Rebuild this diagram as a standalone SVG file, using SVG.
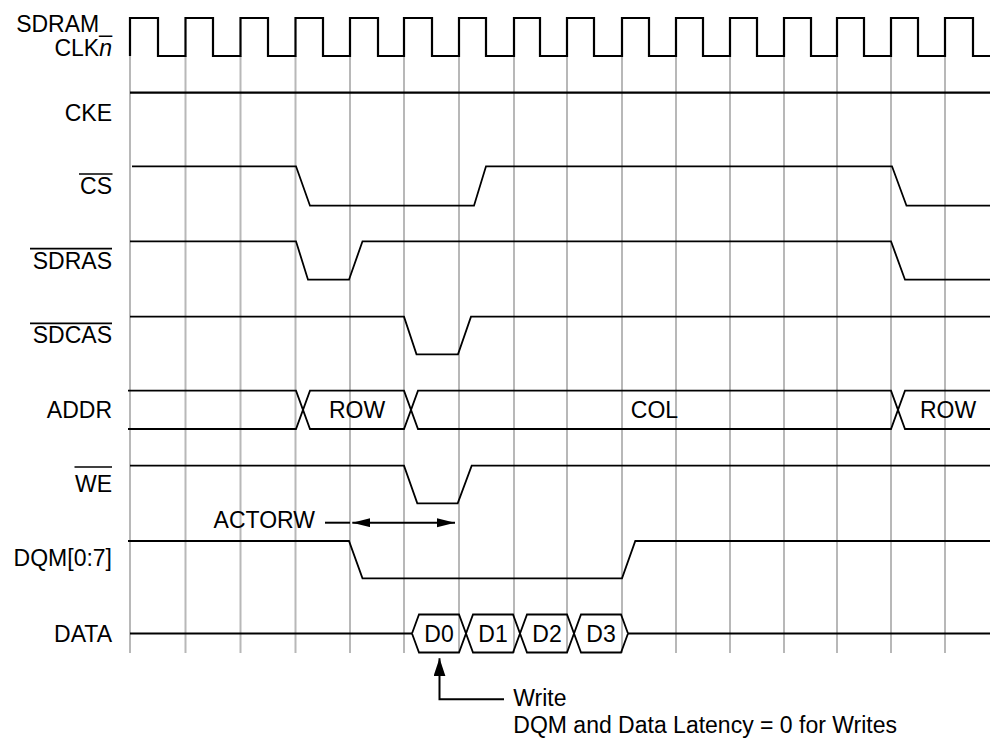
<svg xmlns="http://www.w3.org/2000/svg" width="991" height="738" viewBox="0 0 991 738">
<style>
text{font-family:"Liberation Sans",Arial,sans-serif;font-size:23px;fill:#000}
.lbl{text-anchor:end}
.mid{text-anchor:middle}
.grid{stroke:#b8b8b8;stroke-width:2;fill:none}
.sig{stroke:#000;stroke-width:1.8;fill:none;stroke-linejoin:miter}
.thick{stroke:#000;stroke-width:2.2;fill:none}
.ov{stroke:#000;stroke-width:1.7}
.arr{stroke:#000;stroke-width:2;fill:none}
</style>
<defs>
<marker id="ah" markerUnits="userSpaceOnUse" markerWidth="19" markerHeight="10" refX="18" refY="4.5" orient="auto-start-reverse" viewBox="0 0 19 10">
<path d="M0,0 L18,4.5 L0,9 z" fill="#000"/>
</marker>
<marker id="ahw" markerUnits="userSpaceOnUse" markerWidth="19" markerHeight="13" refX="18" refY="6" orient="auto" viewBox="0 0 19 13">
<path d="M0,0 L18,6 L0,12 z" fill="#000"/>
</marker>
</defs>
<rect width="991" height="738" fill="#fff"/>
<g id="grid">
<path class="grid" d="M130,56V653 M185.5,56V653 M240.5,56V653 M295.5,56V653 M350,56V653 M404,56V653 M459,56V653 M514,56V653 M567,56V653 M622,56V653 M676,56V653 M730,56V653 M784,56V653 M837,56V653 M891,56V653 M945,56V653"/>
</g>
<g id="sdram_clk">
<text class="lbl" x="112" y="32">SDRAM_</text>
<text class="lbl" x="112" y="56">CLK<tspan font-style="italic">n</tspan></text>
<path class="thick" d="M130,56V18H158V56H185.5V18H213V56H240.5V18H268V56H295.5V18H323V56H350V18H378V56H404V18H432V56H459V18H486V56H514V18H540V56H567V18H594V56H622V18H649V56H676V18H703V56H730V18H757V56H784V18H811V56H837V18H864V56H891V18H918V56H945V18H973V56H990"/>
</g>
<g id="cke">
<text class="lbl" x="112" y="120.7">CKE</text>
<path class="thick" d="M130,92.7H990"/>
</g>
<g id="cs">
<text class="lbl" x="112" y="194.3">CS</text>
<line class="ov" x1="79" y1="174" x2="112.5" y2="174"/>
<path class="sig" d="M132,166.3H296L310,205.7H474L486,166.3H892L906.5,205.7H990"/>
</g>
<g id="sdras">
<text class="lbl" x="112" y="269">SDRAS</text>
<line class="ov" x1="30" y1="248.7" x2="112" y2="248.7"/>
<path class="sig" d="M130,241.3H296L308,279.7H349L362.5,241.3H891L905,279.7H990"/>
</g>
<g id="sdcas">
<text class="lbl" x="112" y="343.3">SDCAS</text>
<line class="ov" x1="30" y1="323.3" x2="112" y2="323.3"/>
<path class="sig" d="M130,316.7H404L416.5,354.3H458L471,316.7H990"/>
</g>
<g id="addr">
<text class="lbl" x="112" y="418">ADDR</text>
<path class="sig" d="M128,390.7H296L310,429H404L418,390.7H891L905,429H990"/>
<path class="sig" d="M128,429H296L310,390.7H404L418,429H891L905,390.7H990"/>
<text class="mid" x="357" y="418">ROW</text>
<text class="mid" x="654.5" y="418">COL</text>
<text class="mid" x="948" y="418">ROW</text>
</g>
<g id="we">
<text class="lbl" x="112" y="492">WE</text>
<line class="ov" x1="74.5" y1="467" x2="112" y2="467"/>
<path class="sig" d="M130,465.7H404L417.3,503.3H457.7L471.7,465.7H990"/>
</g>
<g id="actorw">
<text class="lbl" x="315" y="527.5">ACTORW</text>
</g>
<g id="dqm">
<text class="lbl" x="112" y="566">DQM[0:7]</text>
<path class="sig" d="M128,541H349L362.5,578.3H622L635.3,541H990"/>
</g>
<g id="data">
<text class="lbl" x="112" y="642">DATA</text>
<path class="sig" d="M130,633.5H412 M628,633.5H990"/>
<path class="sig" d="M412,633.5L419,614.5H459L473,652.5H513L527,614.5H567L581,652.5H621L628,633.5"/>
<path class="sig" d="M412,633.5L419,652.5H459L473,614.5H513L527,652.5H567L581,614.5H621L628,633.5"/>
<text class="mid" x="439" y="641.7">D0</text>
<text class="mid" x="493" y="641.7">D1</text>
<text class="mid" x="547" y="641.7">D2</text>
<text class="mid" x="601" y="641.7">D3</text>
</g>
<g id="note">
<text x="513.3" y="706">Write</text>
<text x="513.3" y="732.5">DQM and Data Latency = 0 for Writes</text>
</g>
<g id="connectors">
<line class="arr" x1="325" y1="522.7" x2="350" y2="522.7"/>
<path class="arr" d="M352.3,522.7H455" marker-start="url(#ah)" marker-end="url(#ah)"/>
<path class="arr" d="M504,699.3H439.5V658.3" marker-end="url(#ahw)"/>
</g>
</svg>
